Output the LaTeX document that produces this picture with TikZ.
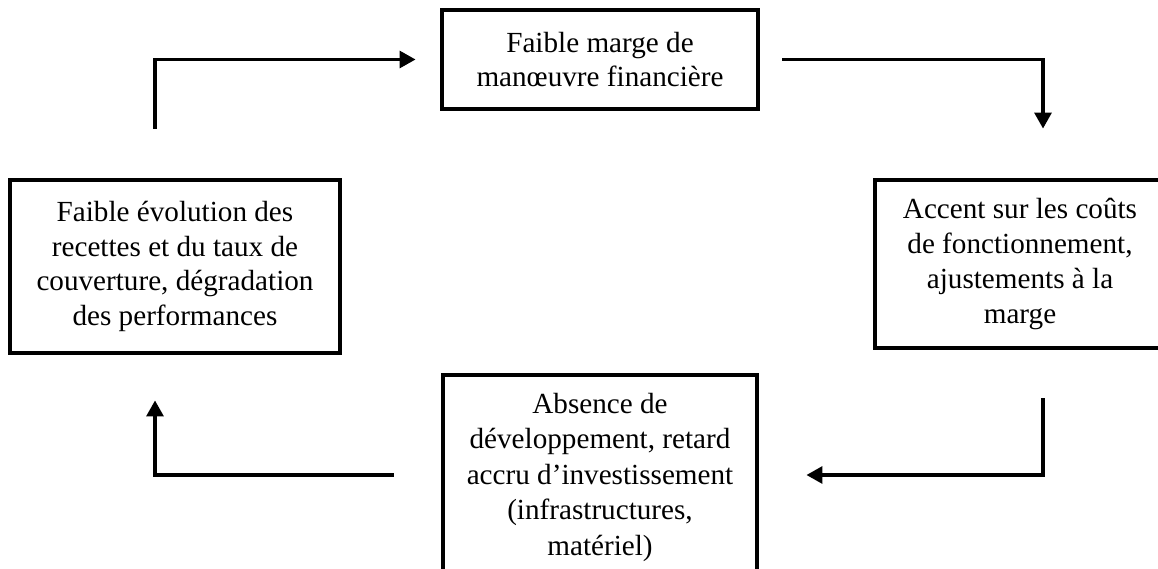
\documentclass[tikz,border=0pt]{standalone}
\usepackage{fontspec}
\setmainfont{Liberation Serif}
\usetikzlibrary{arrows.meta}

\begin{document}
\begin{tikzpicture}[
    stepbox/.style={draw, line width=2.8pt, align=center, inner sep=0pt,
        font=\fontsize{16.6}{19.8}\selectfont},
    flow/.style={line width=1.8pt, -{Triangle[length=0.32cm, width=0.34cm]}}
]
    % Frame
    \useasboundingbox (0,0) rectangle (23.16,-11.38);
    \clip (0,0) rectangle (23.16,-11.38);

    % Boxes
    \node[stepbox, minimum width=6.32cm, minimum height=1.98cm] (top) at (12.0,-1.19)
        {Faible marge de\\manœuvre financière};
    \node[stepbox, minimum width=5.8cm, minimum height=3.36cm] (right) at (20.4,-5.28)
        {Accent sur les coûts\\de fonctionnement,\\ajustements à la\\marge};
    \node[stepbox, minimum width=6.28cm, minimum height=4.08cm, font=\fontsize{16.6}{20.2}\selectfont]
        (bottom) at (12.0,-9.54)
        {Absence de\\développement, retard\\accru d’investissement\\(infrastructures,\\matériel)};
    \node[stepbox, minimum width=6.6cm, minimum height=3.46cm] (left) at (3.5,-5.33)
        {Faible évolution des\\recettes et du taux de\\couverture, dégradation\\des performances};

    % Arrows
    \draw[flow, shorten <=0.98cm, shorten >=0.48cm] ([xshift=-0.4cm]left.north) |- (top.west);
    \draw[flow, shorten <=0.44cm, shorten >=0.98cm] (top.east) -| ([xshift=0.46cm]right.north);
    \draw[flow, shorten <=0.96cm, shorten >=0.94cm] ([xshift=0.46cm]right.south) |- ([yshift=0.04cm]bottom.east);
    \draw[flow, shorten <=0.94cm, shorten >=0.9cm] ([yshift=0.04cm]bottom.west) -| ([xshift=-0.4cm]left.south);
\end{tikzpicture}
\end{document}
